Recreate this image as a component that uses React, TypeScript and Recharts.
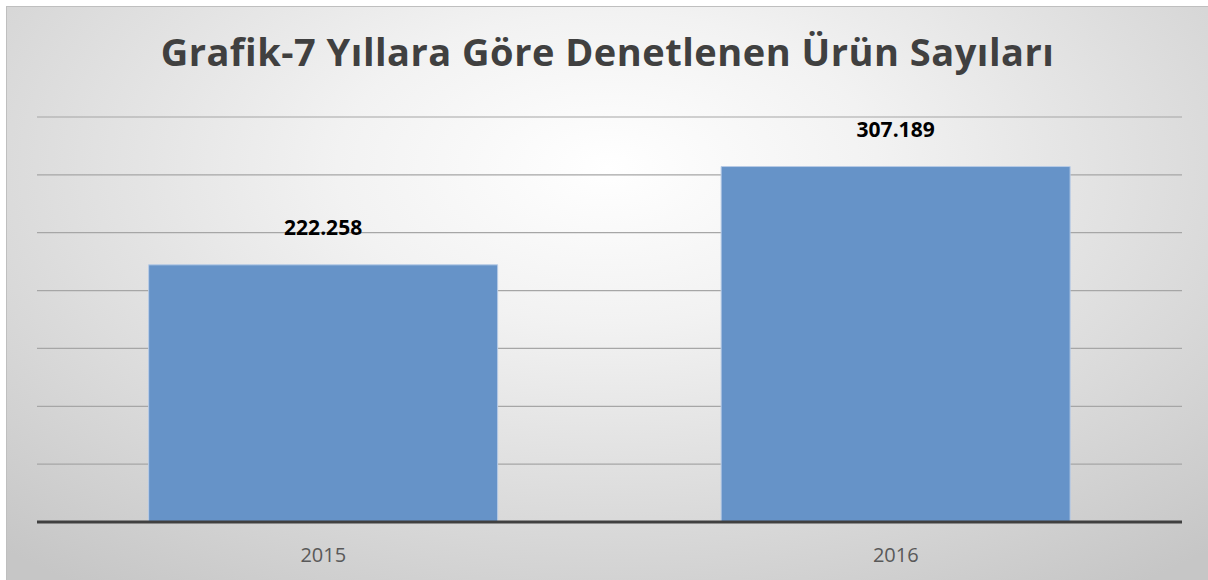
import { BarChart, Bar, XAxis, YAxis, CartesianGrid, LabelList } from 'recharts';

const years = ['2015', '2016'];
const counts = [222258, 307189];
const yTicks = [0, 50000, 100000, 150000, 200000, 250000, 300000, 350000];

const data = years.map((year, i) => ({ year, count: counts[i] }));

// Turkish thousands separator
const fmt = (v: number) => String(v).replace(/\B(?=(\d{3})+(?!\d))/g, '.');

export default function App() {
  return (
    <div
      style={{
        position: 'absolute',
        left: 6,
        top: 6,
        width: 1202,
        height: 574,
        boxSizing: 'border-box',
        borderLeft: '1px solid #bfbfbf',
        borderTop: '1px solid #bfbfbf',
        background:
          'radial-gradient(ellipse 75% 90% at 50% 28%, #ffffff 0%, #f2f2f2 30%, #dcdcdc 65%, #c6c6c6 100%)',
        fontFamily: '"Open Sans", sans-serif',
        overflow: 'hidden',
      }}
    >
      <div
        style={{
          position: 'absolute',
          left: 0,
          top: 21,
          width: '100%',
          textAlign: 'center',
          fontSize: 38,
          fontWeight: 700,
          letterSpacing: 0.5,
          color: '#404040',
          lineHeight: '46px',
          whiteSpace: 'nowrap',
        }}
      >
        Grafik-7 Yıllara Göre Denetlenen Ürün Sayıları
      </div>
      <div style={{ position: 'absolute', left: -1, top: -1 }}>
        <BarChart
          width={1202}
          height={574}
          data={data}
          margin={{ top: 111, right: 26, left: 31, bottom: 0 }}
          barCategoryGap="19.5%"
        >
          <CartesianGrid vertical={false} stroke="#a6a6a6" strokeWidth={1.2} />
          <XAxis
            dataKey="year"
            height={58}
            axisLine={{ stroke: '#404040', strokeWidth: 3 }}
            tickLine={false}
            tickMargin={20}
            tick={{ fill: '#595959', fontSize: 20, fontFamily: '"Open Sans", sans-serif' }}
          />
          <YAxis hide domain={[0, 350000]} ticks={yTicks} />
          <Bar
            dataKey="count"
            fill="#6693c8"
            stroke="#b7cbe6"
            strokeWidth={1}
            isAnimationActive={false}
          >
            <LabelList
              dataKey="count"
              position="top"
              offset={30}
              formatter={(v: any) => fmt(Number(v))}
              style={{ fill: '#000000', fontSize: 21, fontWeight: 700, fontFamily: '"Open Sans", sans-serif' }}
            />
          </Bar>
        </BarChart>
      </div>
    </div>
  );
}
